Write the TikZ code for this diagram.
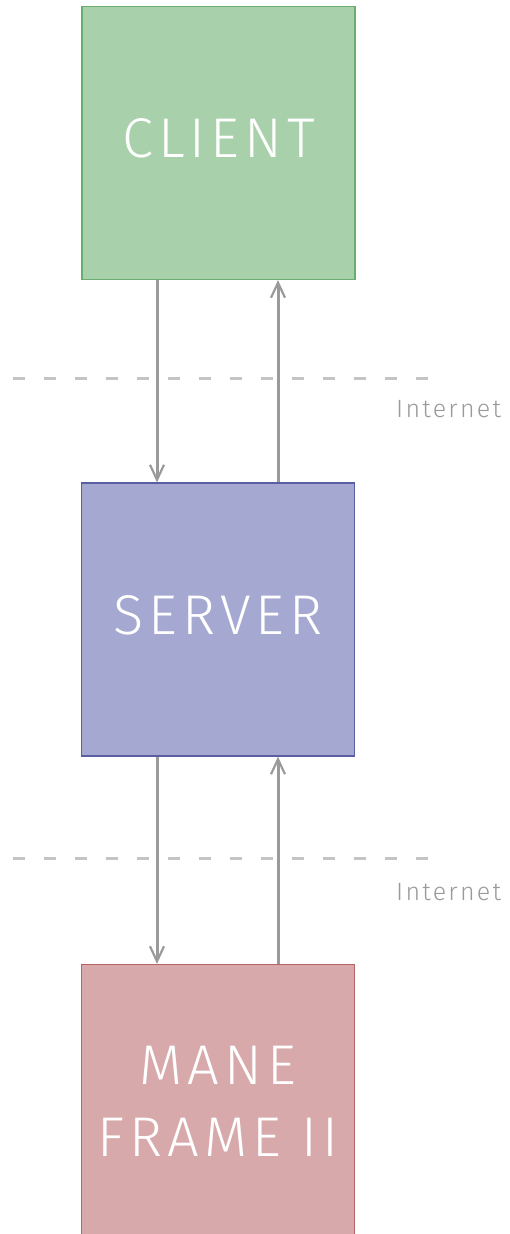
\documentclass[tikz,border=0pt]{standalone}
\usepackage{fontspec}
\setmainfont{Fira Sans Light}[LetterSpace=9]
\usetikzlibrary{arrows.meta,positioning}

\definecolor{clientfill}{HTML}{A8D1AB}
\definecolor{clientdraw}{HTML}{6AAD6E}
\definecolor{serverfill}{HTML}{A5A8D0}
\definecolor{serverdraw}{HTML}{5A5EA3}
\definecolor{mainfill}{HTML}{D8A9AA}
\definecolor{maindraw}{HTML}{B56466}
\definecolor{linkgray}{HTML}{9A9A9A}
\definecolor{dashgray}{HTML}{C4C4C4}

\begin{document}
\begin{tikzpicture}[
  x=1pt, y=-1pt,
  box/.style={rectangle, draw, line width=1.2pt, align=center, minimum width=273pt, minimum height=273pt,
    inner sep=0pt, text=white, font=\fontsize{56}{72}\selectfont},
  arrow/.style={-{Straight Barb[length=15pt, width=14pt, line width=2.2pt]}, draw=linkgray, line width=3pt},
  net/.style={draw=dashgray, line width=3pt, dash pattern=on 12pt off 19pt},
  netlabel/.style={text=linkgray, font=\fontsize{25}{28}\selectfont, anchor=base west, inner sep=0pt}
]
\useasboundingbox (0,0) rectangle (509,1234);

\node[box, fill=clientfill, draw=clientdraw, text depth=10pt] (client) at (218.5,143) {CLIENT};
\node[box, fill=serverfill, draw=serverdraw, text depth=8pt] (server) at (218,619.5) {SERVER};
\node[box, fill=mainfill, draw=maindraw] (mane) at (218,1101) {MANE\\FRAME II};

% internet boundaries
\coordinate (net1w) at (13,378);
\coordinate (net1e) at (432,378);
\coordinate (net2w) at (13,858);
\coordinate (net2e) at (432,858);
\draw[net] (net1w) -- (net1e);
\draw[net] (net2w) -- (net2e);
\node[netlabel] (inet1) at (396,417) {Internet};
\node[netlabel] (inet2) at (396,900) {Internet};

% requests and replies
\draw[arrow] ([xshift=-61.5pt]client.south) -- ([xshift=-61pt]server.north);
\draw[arrow] ([xshift=60pt]server.north) -- ([xshift=59.5pt]client.south);
\draw[arrow] ([xshift=-61pt]server.south) -- ([xshift=-61pt]mane.north);
\draw[arrow] ([xshift=60pt]mane.north) -- ([xshift=60pt]server.south);
\end{tikzpicture}
\end{document}
